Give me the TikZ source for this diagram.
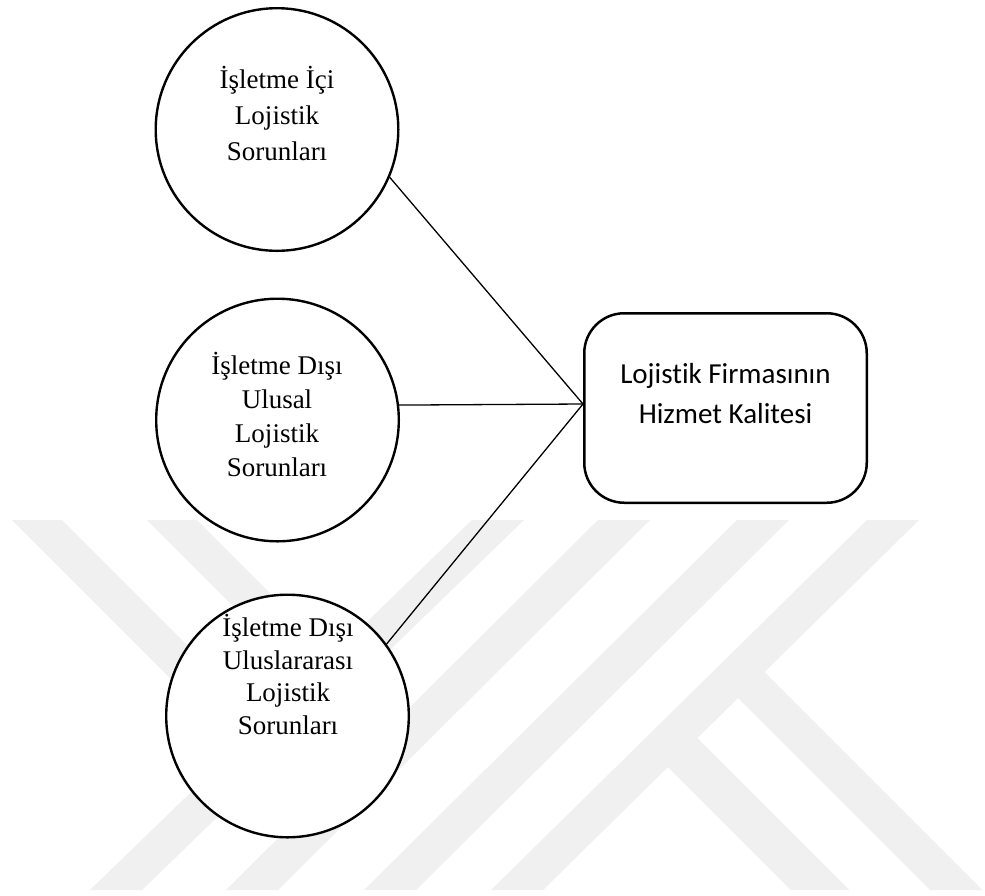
\documentclass[tikz,border=0pt]{standalone}
\usepackage{fontspec}
\setmainfont{Liberation Serif}
\newfontfamily\boxfont[Ligatures=NoCommon]{Carlito}
\usetikzlibrary{calc}
\definecolor{wmgray}{RGB}{240,240,240}
\begin{document}
\begin{tikzpicture}[x=1pt,y=-1pt,
  bubble/.style={circle,draw=black,line width=2.4pt,fill=white,
    minimum size=242.6pt,inner sep=0pt},
  bubbletext/.style={align=center,anchor=base,inner sep=0pt,
    font=\fontsize{27}{#1}\selectfont},
  bubbletext/.default=34,
  resultbox/.style={rectangle,rounded corners=40pt,draw=black,line width=2.5pt,
    fill=white,minimum width=282.5pt,minimum height=189.5pt,inner sep=0pt},
  boxtext/.style={align=center,anchor=base,inner sep=0pt,
    font=\boxfont\fontsize{29}{40}\selectfont},
  link/.style={draw=black,line width=1.3pt},
  mark band/.style={fill=wmgray}
]
% page
\fill[white] (0,0) rectangle (985,895);

% background emblem: four long rising bands
\fill[mark band] (90,890) -- (142,890) -- (524,520) -- (472,520) -- cycle;
\fill[mark band] (226,890) -- (278,890) -- (650,520) -- (598,520) -- cycle;
\fill[mark band] (364,890) -- (416,890) -- (789,520) -- (737,520) -- cycle;
\fill[mark band] (491,890) -- (543,890) -- (919,520) -- (867,520) -- cycle;
% short falling bands meeting the first rising band
\fill[mark band] (12,520) -- (62,520) -- (269.7,727.7) -- (244.3,752.3) -- cycle;
\fill[mark band] (147,520) -- (197,520) -- (338.3,661.3) -- (312.9,685.9) -- cycle;
% short falling bands leaving the last rising band
\fill[mark band] (758.5,666) -- (982.5,890) -- (930.1,890) -- (732.1,692) -- cycle;
\fill[mark band] (691.5,732) -- (849.5,890) -- (791,890) -- (662,761) -- cycle;

% problem groups
\node[bubble] (inner) at (277,129.5) {};
\node[bubble] (national) at (277.5,420) {};
\node[bubble] (intl) at (287.5,716) {};

\node[bubbletext=36] (innertext) at (277,160) {İşletme İçi\\Lojistik\\Sorunları};
\node[bubbletext=34] (nationaltext) at (277,476) {İşletme Dışı\\Ulusal\\Lojistik\\Sorunları};
\node[bubbletext=32.5] (intltext) at (288,734) {İşletme Dışı\\Uluslararası\\Lojistik\\Sorunları};

% outcome
\node[resultbox] (quality) at (725.5,408) {};
\node[boxtext] (qualitytext) at (725.5,423) {Lojistik Firmasının\\Hizmet Kalitesi};

\coordinate (hub) at ($(quality.west)+(0,-4)$);

% links
\draw[link] (inner.-23) -- (hub);
\draw[link] (national.7.6) -- (hub);
\draw[link] (intl.36) -- (hub);
\end{tikzpicture}
\end{document}
